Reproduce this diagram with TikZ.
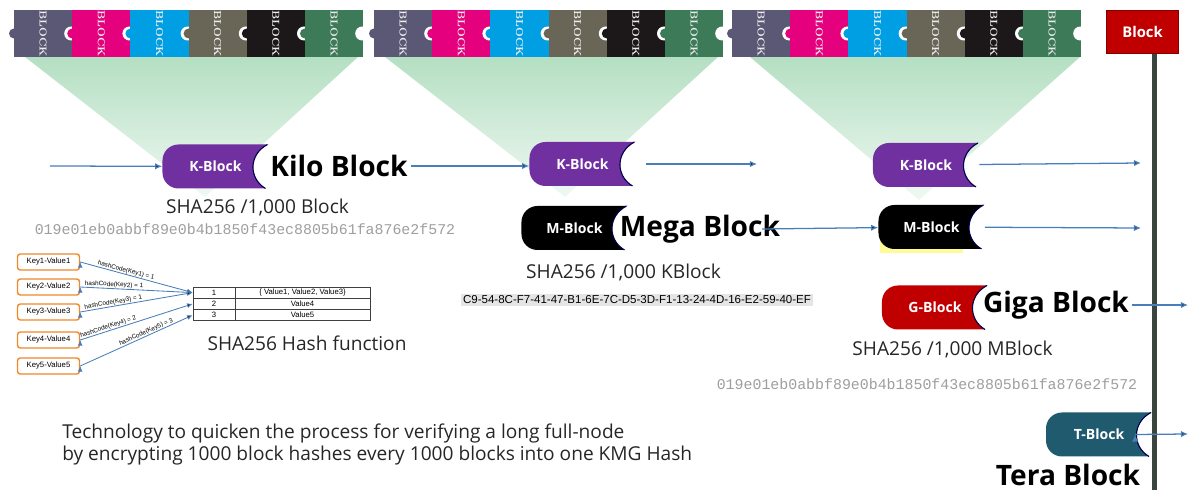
\documentclass[tikz,border=0pt]{standalone}
\usepackage{fontspec}
\setsansfont{Open Sans}
\newfontfamily\hashfont{Liberation Mono}
\newfontfamily\arialfont{Liberation Sans}
\usetikzlibrary{calc, arrows.meta, positioning}
\usepackage{xcolor}

\definecolor{bslate}{HTML}{5B5876}
\definecolor{bmag}{HTML}{E5007D}
\definecolor{bcyan}{HTML}{009FE3}
\definecolor{bolive}{HTML}{6A6657}
\definecolor{bblack}{HTML}{1C1819}
\definecolor{bgreen}{HTML}{3D7A58}
\definecolor{tgreen}{HTML}{B4DFC2}
\definecolor{kpurple}{HTML}{7030A0}
\definecolor{gred}{HTML}{C00000}
\definecolor{tteal}{HTML}{205A6E}
\definecolor{flowblue}{HTML}{4A7EBB}
\definecolor{korange}{HTML}{F0882A}
\definecolor{barcol}{HTML}{3B4540}
\definecolor{hlyellow}{HTML}{FFFB99}

\begin{document}
\begin{tikzpicture}[x=0.025cm, y=-0.025cm, >={Latex[length=5pt,width=4.5pt]}]
	\tikzstyle{blocktxt} = [rotate=-90, text=white!92!black, inner sep=0pt, font=\rmfamily\bfseries\fontsize{7.2}{8}\selectfont]
	\tikzstyle{crescent} = [draw=black!70!blue, line width=0.8pt]
	\tikzset{pill/.style={minimum width=2.65cm, minimum height=1.1cm, inner sep=0pt, text=white,
			font=\sffamily\bfseries\fontsize{10}{12}\selectfont,
			path picture={
				\coordinate (pnw) at (path picture bounding box.north west);
				\fill[#1] ($(pnw)+(105,0)$) .. controls ($(pnw)+(86,10)$) and ($(pnw)+(86,34)$) .. ($(pnw)+(103,44)$)
				-- ($(pnw)+(98,44)$) [rounded corners=0.4cm] -- ($(pnw)+(0,44)$) -- (pnw) -- ($(pnw)+(98,0)$) [sharp corners] -- cycle;
				\draw[crescent] ($(pnw)+(105,0)$) .. controls ($(pnw)+(86,10)$) and ($(pnw)+(86,34)$) .. ($(pnw)+(103,44)$);
	}}}
	\tikzstyle{big} = [inner sep=2pt, font=\sffamily\bfseries\fontsize{20}{24}\selectfont]
	\tikzstyle{sha} = [inner sep=1pt, text=black!85, font=\sffamily\fontsize{13.6}{15}\selectfont]
	\tikzstyle{hashtxt} = [inner sep=1pt, text=black!38, font=\hashfont\fontsize{10.6}{12}\selectfont]
	\tikzstyle{flow} = [->, draw=flowblue, line width=0.9pt]
	\tikzstyle{kv} = [draw=korange, line width=1pt, rounded corners=2pt, fill=white, minimum width=1.55cm, minimum height=0.4cm, inner sep=0pt, font=\arialfont\fontsize{5.5}{6}\selectfont]
	\tikzstyle{cell} = [draw=black!75, line width=0.5pt, minimum height=0.2825cm, inner sep=0pt, font=\arialfont\fontsize{5.5}{6}\selectfont]
	\tikzstyle{hcode} = [->, >={Latex[length=4pt,width=3.5pt]}, draw=flowblue, line width=0.6pt]
	\tikzstyle{hlab} = [sloped, above, inner sep=0.3pt, font=\arialfont\fontsize{4.5}{5}\selectfont]
	
	\useasboundingbox (0,0) rectangle (1189,490);
	
	% green funnels under the block strips
	\shade[top color=tgreen, bottom color=tgreen!20] (25,57) -- (358,57) -- (205,197) -- cycle;
	\shade[top color=tgreen, bottom color=tgreen!20] (385,57) -- (718,57) -- (565,197) -- cycle;
	\shade[top color=tgreen, bottom color=tgreen!20] (750,57) -- (1080,57) -- (919,200) -- cycle;
	
	% puzzle strips of six blocks
	\foreach \sx in {14,374,732}{
		\foreach \bc [count=\i from 0] in {bslate,bmag,bcyan,bolive,bblack,bgreen}{
			\pgfmathsetmacro{\bx}{\sx+\i*58.2}
			\fill[\bc] (\bx,10) rectangle ++(58.2,47);
			\ifnum\i>0
				\fill[white] (\bx-1,33.5) circle (7);
				\fill[\bc] (\bx,10) rectangle ++(7,47);
			\fi
			\fill[\bc] (\bx,33.5) circle (5);
			\node[blocktxt] (b\sx-\i) at (\bx+29.1,33.5) {BLOCK};
		}
		\fill[white] (\sx+348.2,33.5) circle (7);
	}
	
	% top right block and its time line
	\node[fill=gred, draw=gred!70!black, minimum width=1.8cm, minimum height=1.075cm, inner sep=0pt, text=white,
	font=\sffamily\bfseries\fontsize{10.5}{12}\selectfont] (blk) at (1142.5,31.5) {Block};
	
	\fill[hlyellow] (880,238) rectangle (963,253);
	
	\node[pill=kpurple] (k1) at (215.5,166.5) {K-Block};
	\node[pill=kpurple] (k2) at (582.5,164) {K-Block};
	\node[pill=kpurple] (k3) at (926,165) {K-Block};
	\node[pill=black]   (m1) at (574.5,228) {M-Block};
	\node[pill=black]   (m2) at (931.5,227) {M-Block};
	\node[pill=gred]    (g1) at (935,307.5) {G-Block};
	\node[pill=tteal]   (t1) at (1099,434.5) {T-Block};
	
	\node[big] (kilo) at (339,166) {Kilo Block};
	\node[big] (mega) at (700,229) {Mega Block};
	\node[big] (giga) at (1056,305) {Giga Block};
	\node[big] (tera) at (1068,475) {Tera Block};
	
	\node[sha] (sha1) at (257.5,207) {SHA256 /1,000 Block};
	\node[sha] (sha2) at (623.5,272) {SHA256 /1,000 KBlock};
	\node[sha] (sha3) at (952.5,349) {SHA256 /1,000 MBlock};
	\node[hashtxt] (hash1) at (245,229) {019e01eb0abbf89e0b4b1850f43ec8805b61fa876e2f572};
	\node[hashtxt] (hash2) at (927,384) {019e01eb0abbf89e0b4b1850f43ec8805b61fa876e2f572};
	\node[fill=black!10, inner sep=1.5pt, font=\arialfont\fontsize{8.2}{9}\selectfont] (cid) at (637,300)
	{C9-54-8C-F7-41-47-B1-6E-7C-D5-3D-F1-13-24-4D-16-E2-59-40-EF};
	
	\node[anchor=west, align=left, inner sep=0pt, text=black!85, font=\sffamily\fontsize{13.6}{16.3}\selectfont] (note) at (62,444.5)
	{Technology to quicken the process for verifying a long full-node\\
		by encrypting 1000 block hashes every 1000 blocks into one KMG Hash};
	
	% hash table
	\node[kv] (kv1) at (48.5,262) {Key1-Value1};
	\node[kv] (kv2) at (48.5,287) {Key2-Value2};
	\node[kv] (kv3) at (48.5,312) {Key3-Value3};
	\node[kv] (kv4) at (48.5,340) {Key4-Value4};
	\node[kv] (kv5) at (48.5,366) {Key5-Value5};
	
	\node[cell, minimum width=1.05cm]  (r1n) at (214,292.6) {1};
	\node[cell, minimum width=3.375cm] (r1v) at (302.5,292.6) {\{ Value1, Value2, Value3\}};
	\node[cell, minimum width=1.05cm]  (r2n) at (214,303.9) {2};
	\node[cell, minimum width=3.375cm] (r2v) at (302.5,303.9) {Value4};
	\node[cell, minimum width=1.05cm]  (r3n) at (214,315.2) {3};
	\node[cell, minimum width=3.375cm] (r3v) at (302.5,315.2) {Value5};
	
	\node[sha] (hashfn) at (307,343) {SHA256 Hash function};
	
	\path[hcode] (kv1.east) edge node[hlab, pos=0.4] {hashCode(Key1) = 1} (r1n.west);
	\path[hcode] (kv2.east) edge node[hlab, pos=0.3] {hashCode(Key2) = 1} (r1n.west);
	\path[hcode] (kv3.east) edge node[hlab, pos=0.3] {hashCode(Key3) = 1} (r1n.west);
	\path[hcode] (kv4.east) edge node[hlab, pos=0.26] {hashCode(Key4) = 2} (r2n.west);
	\path[hcode] (kv5.east) edge node[hlab, pos=0.6] {hashCode(Key5) = 3} (r3n.west);
	
	% time line
	\coordinate (bartop) at (1154.5,54);
	\coordinate (barbot) at (1154.5,490);
	\draw[barcol, line width=3.5pt] (bartop) -- (barbot);
	
	% flow arrows
	\coordinate (in1) at (50,166);
	\coordinate (k2end) at (757,164);
	\coordinate (megastart) at (762,229);
	\coordinate (k3end) at (1141,163);
	\coordinate (m2end) at (1141,228);
	\coordinate (gend) at (1188,305);
	\coordinate (tend) at (1188,434);
	
	\path[flow]
	(in1)	edge	(k1)
	(kilo)	edge	(kilo -| k2.west)
	(k2)	edge[shorten <=0.25cm]	(k2end)
	(megastart)	edge	(m2)
	(k3)	edge	(k3end)
	(m2)	edge	(m2end)
	(giga)	edge	(gend)
	([xshift=-0.43cm]t1.east)	edge	(tend);
\end{tikzpicture}
\end{document}
